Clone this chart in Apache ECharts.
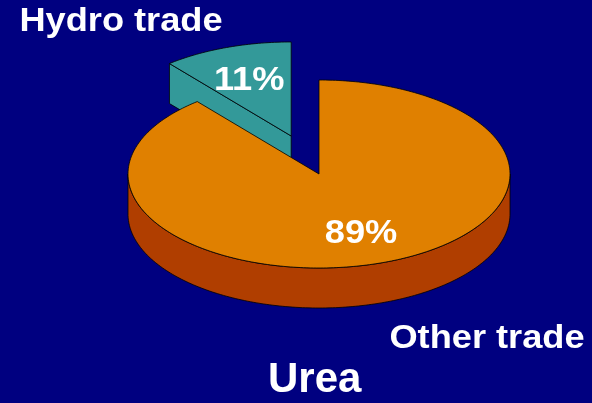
<!DOCTYPE html>
<html><head><meta charset="utf-8">
<script src="https://cdn.jsdelivr.net/npm/echarts@6/dist/echarts.min.js"></script>
<style>html,body{margin:0;padding:0;background:#000080;}#c{width:592px;height:403px;}</style>
</head><body><div id="c"></div>
<script>
// ---- data ----
const categories = ['Other trade', 'Hydro trade'];
const values = [89, 11];
const chartTitle = 'Urea';
const explodedCategory = 'Hydro trade';

// ---- geometry / styling ----
const CX = 319, CY = 174, RX = 191, RY = 94, DEPTH = 40, EXPLODE = 0.43, LABEL_F = 0.65;
const topColors = { 'Other trade': '#E08000', 'Hydro trade': '#339999' };
const sideColors = { 'Other trade': '#B03E00', 'Hydro trade': '#339999' };
const FONT = '"Liberation Sans", Arial, sans-serif';
const TEXT_SX = 1.065;
const total = values.reduce((a, b) => a + b, 0);
const rad = d => d * Math.PI / 180;

function renderItem(params, api) {
  const i = params.dataIndex;
  const v = api.value(1);
  const name = categories[i];
  let before = 0;
  for (let k = 0; k < i; k++) before += values[k];
  // clockwise from 12 o'clock
  const a1 = 90 - (before + v) / total * 360;
  const a2 = 90 - before / total * 360;
  const mid = (a1 + a2) / 2;
  const ex = name === explodedCategory ? EXPLODE : 0;
  const ox = CX + ex * RX * Math.cos(rad(mid));
  const oy = CY - ex * RY * Math.sin(rad(mid));
  const pt = (a, dy) => [ox + RX * Math.cos(rad(a)), oy - RY * Math.sin(rad(a)) + (dy || 0)];
  const arc = (s, e, dy) => {
    const n = Math.max(2, Math.ceil(Math.abs(e - s)));
    const out = [];
    for (let j = 0; j <= n; j++) out.push(pt(s + (e - s) * j / n, dy));
    return out;
  };
  const base = Math.round(-Math.sin(rad(mid)) * 10) * 10;
  const stroke = { stroke: '#000', lineWidth: 0.8 };
  const children = [];
  // radial faces
  if (Math.cos(rad(a1)) > 0.001) {
    children.push({ type: 'polygon', z2: base, shape: { points: [[ox, oy], pt(a1), pt(a1, DEPTH), [ox, oy + DEPTH]] },
      style: Object.assign({ fill: sideColors[name] }, stroke) });
  }
  if (Math.cos(rad(a2)) < -0.001) {
    children.push({ type: 'polygon', z2: base, shape: { points: [[ox, oy], pt(a2), pt(a2, DEPTH), [ox, oy + DEPTH]] },
      style: Object.assign({ fill: sideColors[name] }, stroke) });
  }
  // front outer walls
  for (let k = -2; k <= 2; k++) {
    const s = Math.max(a1, k * 360 - 180), e = Math.min(a2, k * 360);
    if (e > s) {
      const topArc = arc(s, e, 0);
      const botArc = arc(s, e, DEPTH).reverse();
      children.push({ type: 'polygon', z2: base + 1, shape: { points: topArc.concat(botArc) },
        style: Object.assign({ fill: sideColors[name] }, stroke) });
    }
  }
  // top face
  children.push({ type: 'polygon', z2: base + 2, shape: { points: [[ox, oy]].concat(arc(a1, a2, 0)) },
    style: Object.assign({ fill: topColors[name] }, stroke) });
  // percentage label
  const lp = [ox + LABEL_F * RX * Math.cos(rad(mid)), oy - LABEL_F * RY * Math.sin(rad(mid)) + 2];
  children.push({ type: 'text', z2: base + 3, x: lp[0], y: lp[1], scaleX: TEXT_SX, style: {
    text: Math.round(v / total * 100) + '%', x: 0, y: 0,
    fill: '#fff', fontSize: 34, fontWeight: 'bold', fontFamily: FONT,
    align: 'center', verticalAlign: 'middle' } });
  return { type: 'group', children: children };
}

const chart = echarts.init(document.getElementById('c'), null, { renderer: 'canvas' });
chart.setOption({
  backgroundColor: '#000080',
  animation: false,
  title: {
    text: chartTitle, left: 268, top: 359, padding: 0,
    textStyle: { color: '#fff', fontSize: 42, fontWeight: 'bold', fontFamily: FONT }
  },
  graphic: [
    { type: 'text', x: 121, y: 22, scaleX: TEXT_SX, style: { text: categories[1], x: 0, y: 0, fill: '#fff', fontSize: 34, fontWeight: 'bold', fontFamily: FONT, align: 'center', verticalAlign: 'middle' } },
    { type: 'text', x: 487, y: 339, scaleX: TEXT_SX, style: { text: categories[0], x: 0, y: 0, fill: '#fff', fontSize: 34, fontWeight: 'bold', fontFamily: FONT, align: 'center', verticalAlign: 'middle' } }
  ],
  series: [{
    type: 'custom',
    coordinateSystem: 'none',
    renderItem: renderItem,
    data: categories.map((c, i) => ({ name: c, value: [i, values[i]] }))
  }]
});
</script></body></html>
